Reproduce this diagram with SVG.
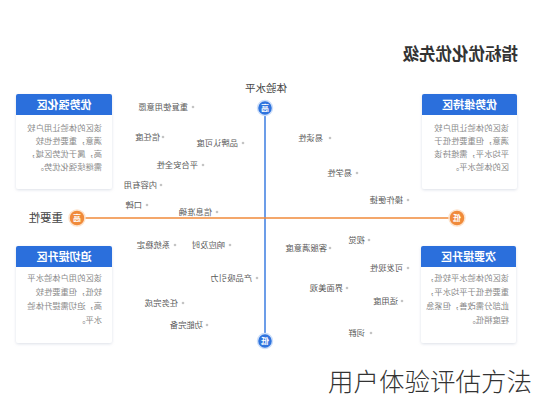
<svg xmlns="http://www.w3.org/2000/svg" width="533" height="400" viewBox="0 0 533 400">
<defs>
<filter id="sh" x="-10%" y="-10%" width="120%" height="120%"><feDropShadow dx="0" dy="1" stdDeviation="1.5" flood-color="#9aa6bd" flood-opacity="0.35"/></filter>
<style>
text{font-family:"Noto Sans CJK SC","Noto Sans",sans-serif}
.title{font-size:16.5px;font-weight:bold;fill:#333}
.axl{font-size:10.5px;fill:#444}
.lbl{font-size:8.3px;fill:#5a5a5a}
.dot{fill:#c4c4c4}
.card{fill:#fff;filter:url(#sh)}
.hdr{fill:#2b6fdc}
.hdrt{font-size:11px;font-weight:bold;fill:#fff;text-anchor:middle}
.body{font-size:8.3px;fill:#8a8a8a}
.vc{fill:#2f74de;stroke:#cfe0fa;stroke-width:1.5}
.hc{fill:#f08a3a;stroke:#fde3cc;stroke-width:1.5}
.ct{font-size:8px;font-weight:bold;fill:#fff;text-anchor:middle}
.cap{font-size:25.5px;font-weight:300;fill:#333}
</style>
</defs>
<rect width="533" height="400" fill="#fff"/>
<g transform="translate(533,0) scale(-1,1)">
<text class="title" x="15" y="60">指标优化优先级</text>
<g id="connectors">
<line x1="268" y1="108" x2="268" y2="341" stroke="#3b7de0" stroke-width="1.5"/>
<line x1="76" y1="218" x2="456" y2="218" stroke="#f08a3a" stroke-width="1.5"/>
</g>
<g id="axis-v">
<text class="axl" x="267" y="92" text-anchor="middle">体验水平</text>
<circle class="vc" cx="268" cy="108" r="7.5"/><text class="ct" x="268" y="111">高</text>
<circle class="vc" cx="268" cy="341" r="7.5"/><text class="ct" x="268" y="344">低</text>
</g>
<g id="axis-h">
<circle class="hc" cx="76" cy="218" r="8"/><text class="ct" x="76" y="221">低</text>
<circle class="hc" cx="456" cy="218" r="8"/><text class="ct" x="456" y="221">高</text>
<text class="axl" x="470" y="222" style="font-size:11.5px">重要性</text>
</g>
<g id="box-maintain">
<rect class="card" x="16" y="94" width="95" height="95" rx="2"/>
<path class="hdr" d="M16 96a2 2 0 0 1 2-2h91a2 2 0 0 1 2 2v19h-95z"/>
<text class="hdrt" x="63.5" y="109">优势维持区</text>
<text class="body" x="24" y="131">该区的体验让用户较</text>
<text class="body" x="24" y="144">满意，但重要性低于</text>
<text class="body" x="24" y="157">平均水平，需维持该</text>
<text class="body" x="24" y="170">区的体验水平。</text>
</g>
<g id="box-strengthen">
<rect class="card" x="421" y="94" width="96" height="95" rx="2"/>
<path class="hdr" d="M421 96a2 2 0 0 1 2-2h92a2 2 0 0 1 2 2v19h-96z"/>
<text class="hdrt" x="469" y="109">优势强化区</text>
<text class="body" x="431" y="131">该区的体验让用户较</text>
<text class="body" x="431" y="144">满意，重要性也较</text>
<text class="body" x="431" y="157">高，属于优势区域，</text>
<text class="body" x="431" y="170">需继续强化优势。</text>
</g>
<g id="box-minor">
<rect class="card" x="17" y="246" width="95" height="97" rx="2"/>
<path class="hdr" d="M17 248a2 2 0 0 1 2-2h91a2 2 0 0 1 2 2v19h-95z"/>
<text class="hdrt" x="64.5" y="261">次要提升区</text>
<text class="body" x="24" y="281">该区的体验水平较低，</text>
<text class="body" x="24" y="295">重要性低于平均水平，</text>
<text class="body" x="24" y="309">此部分需改善，但紧急</text>
<text class="body" x="24" y="323">程度稍低。</text>
</g>
<g id="box-urgent">
<rect class="card" x="421" y="246" width="96" height="97" rx="2"/>
<path class="hdr" d="M421 248a2 2 0 0 1 2-2h92a2 2 0 0 1 2 2v19h-96z"/>
<text class="hdrt" x="469" y="261">迫切提升区</text>
<text class="body" x="431" y="281">该区的用户体验水平</text>
<text class="body" x="431" y="295">较低，但重要性较</text>
<text class="body" x="431" y="309">高，迫切需提升体验</text>
<text class="body" x="431" y="323">水平。</text>
</g>
<g id="points">
<g id="p1"><circle class="dot" cx="340" cy="107" r="1.3"/><text class="lbl" x="345" y="110">重复使用意愿</text></g>
<g id="p2"><circle class="dot" cx="370" cy="137" r="1.3"/><text class="lbl" x="373" y="140">信任度</text></g>
<g id="p3"><circle class="dot" cx="290" cy="143" r="1.3"/><text class="lbl" x="295" y="146">品牌认可度</text></g>
<g id="p4"><circle class="dot" cx="330" cy="165" r="1.3"/><text class="lbl" x="335" y="168">平台安全性</text></g>
<g id="p5"><circle class="dot" cx="372" cy="185" r="1.3"/><text class="lbl" x="376" y="188">内容有用</text></g>
<g id="p6"><circle class="dot" cx="386" cy="205" r="1.3"/><text class="lbl" x="391" y="208">口碑</text></g>
<g id="p7"><circle class="dot" cx="316" cy="212" r="1.3"/><text class="lbl" x="321" y="215">信息准确</text></g>
<g id="p8"><circle class="dot" cx="203" cy="138" r="1.3"/><text class="lbl" x="210" y="141">易读性</text></g>
<g id="p9"><circle class="dot" cx="176" cy="173" r="1.3"/><text class="lbl" x="181" y="176">易学性</text></g>
<g id="p10"><circle class="dot" cx="125" cy="200" r="1.3"/><text class="lbl" x="130" y="203">操作便捷</text></g>
<g id="p11"><circle class="dot" cx="358" cy="245" r="1.3"/><text class="lbl" x="363" y="248">系统稳定</text></g>
<g id="p12"><circle class="dot" cx="303" cy="245" r="1.3"/><text class="lbl" x="308" y="248">响应及时</text></g>
<g id="p13"><circle class="dot" cx="276" cy="278" r="1.3"/><text class="lbl" x="281" y="281">产品吸引力</text></g>
<g id="p14"><circle class="dot" cx="350" cy="303" r="1.3"/><text class="lbl" x="355" y="306">任务完成</text></g>
<g id="p15"><circle class="dot" cx="326" cy="325" r="1.3"/><text class="lbl" x="330" y="328">功能完备</text></g>
<g id="p16"><circle class="dot" cx="164" cy="240" r="1.3"/><text class="lbl" x="168" y="243">视觉</text></g>
<g id="p17"><circle class="dot" cx="203" cy="248" r="1.3"/><text class="lbl" x="206" y="251">客服满意度</text></g>
<g id="p18"><circle class="dot" cx="125" cy="268" r="1.3"/><text class="lbl" x="130" y="271">可发现性</text></g>
<g id="p19"><circle class="dot" cx="186" cy="288" r="1.3"/><text class="lbl" x="190" y="291">界面美观</text></g>
<g id="p20"><circle class="dot" cx="131" cy="301" r="1.3"/><text class="lbl" x="135" y="304">适用度</text></g>
<g id="p21"><circle class="dot" cx="162" cy="333" r="1.3"/><text class="lbl" x="168" y="336">词群</text></g>
</g>
</g>
<text class="cap" x="328" y="391">用户体验评估方法</text>
</svg>
